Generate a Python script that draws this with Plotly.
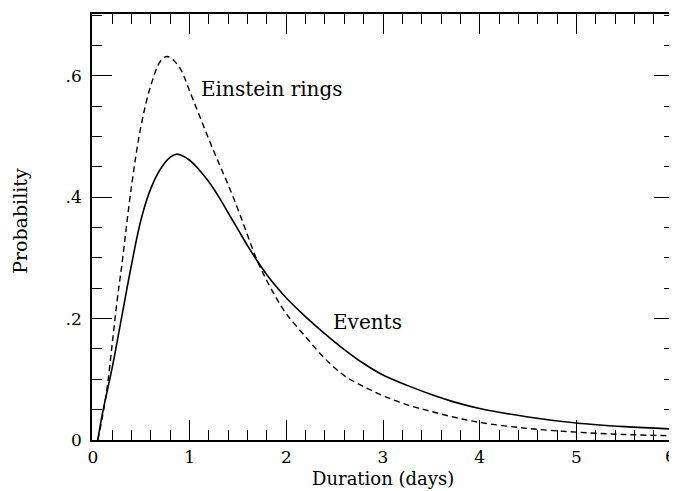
import plotly.graph_objects as go

# Duration (days) sample points and read-off probabilities
events_x = [0.05, 0.1, 0.2, 0.3, 0.4, 0.5, 0.6, 0.7, 0.8, 0.86, 0.9, 1.0, 1.1, 1.2, 1.3, 1.4,
            1.5, 1.6, 1.7, 1.8, 1.9, 2.0, 2.2, 2.4, 2.6, 2.8, 3.0, 3.25, 3.5, 3.75, 4.0,
            4.5, 5.0, 5.5, 6.0]
events_y = [0.0, 0.045, 0.12, 0.205, 0.29, 0.365, 0.415, 0.447, 0.466, 0.471, 0.470, 0.461,
            0.445, 0.425, 0.401, 0.374, 0.347, 0.320, 0.295, 0.272, 0.252, 0.234, 0.203,
            0.175, 0.149, 0.126, 0.107, 0.090, 0.075, 0.062, 0.052, 0.038, 0.028, 0.022, 0.018]

rings_x = [0.05, 0.1, 0.15, 0.2, 0.25, 0.3, 0.4, 0.5, 0.6, 0.7, 0.76, 0.8, 0.9, 1.0, 1.1, 1.2,
           1.3, 1.4, 1.5, 1.6, 1.7, 1.8, 1.9, 2.0, 2.2, 2.4, 2.6, 2.8, 3.0, 3.25, 3.5, 3.75,
           4.0, 4.5, 5.0, 5.5, 6.0]
rings_y = [0.0, 0.04, 0.09, 0.16, 0.23, 0.29, 0.42, 0.52, 0.585, 0.625, 0.632, 0.63, 0.613,
           0.575, 0.535, 0.495, 0.457, 0.42, 0.38, 0.337, 0.295, 0.262, 0.233, 0.208, 0.170,
           0.134, 0.106, 0.088, 0.073, 0.058, 0.047, 0.037, 0.029, 0.019, 0.013, 0.009, 0.007]

x_ticks = [0, 1, 2, 3, 4, 5, 6]
x_ticklabels = ["0", "1", "2", "3", "4", "5", "6"]
y_ticks = [0, 0.2, 0.4, 0.6]
y_ticklabels = ["0", ".2", ".4", ".6"]

FONT = "DejaVu Serif"
FS = 17
XR = [-0.01, 6.01]
YR = [0, 0.702]

fig = go.Figure()
fig.add_trace(go.Scatter(x=rings_x, y=rings_y, mode="lines",
                         line=dict(color="black", width=1.4, dash="6px,4px", shape="spline"),
                         showlegend=False, hoverinfo="skip"))
fig.add_trace(go.Scatter(x=events_x, y=events_y, mode="lines",
                         line=dict(color="black", width=1.6, shape="spline"),
                         showlegend=False, hoverinfo="skip"))
# invisible trace to activate the mirrored (top/right) tick axes
fig.add_trace(go.Scatter(x=[events_x[0]], y=[events_y[0]], xaxis="x2", yaxis="y2",
                         mode="markers", marker=dict(opacity=0), showlegend=False,
                         hoverinfo="skip"))

tick_common = dict(showgrid=False, zeroline=False, ticks="inside", tickcolor="black",
                   tickwidth=1.2, ticklen=20,
                   tickfont=dict(family=FONT, size=FS, color="black"))
xminor = dict(dtick=0.2, tick0=0, ticks="inside", ticklen=10, tickcolor="black",
              tickwidth=1.2, showgrid=False)
yminor = dict(dtick=0.05, tick0=0, ticks="inside", ticklen=10, tickcolor="black",
              tickwidth=1.2, showgrid=False)

# the last x label ("6") sits on the page edge; draw the others on the axis
fig.update_layout(
    xaxis=dict(range=XR, tickvals=x_ticks[:-1], ticktext=x_ticklabels[:-1], minor=xminor,
               showline=True, linecolor="black", linewidth=1.5, mirror=True,
               ticklabelstandoff=1, **tick_common),
    yaxis=dict(range=YR, tickvals=y_ticks, ticktext=y_ticklabels, minor=yminor,
               showline=True, linecolor="black", linewidth=1.5, mirror=True,
               ticklabelstandoff=5, **tick_common),
    xaxis2=dict(range=XR, tickvals=x_ticks, minor=xminor, overlaying="x", side="top",
                anchor="y", showticklabels=False, showline=False, **tick_common),
    yaxis2=dict(range=YR, tickvals=y_ticks, minor=yminor, overlaying="y", side="right",
                anchor="x", showticklabels=False, showline=False, **tick_common),
)
# major tick at 6 on the bottom axis (tickvals above stops at 5)
fig.add_trace(go.Scatter(x=[x_ticks[-1]], y=[0], xaxis="x3", yaxis="y", mode="markers",
                         marker=dict(opacity=0), showlegend=False, hoverinfo="skip"))
fig.update_layout(xaxis3=dict(range=XR, tickvals=[x_ticks[-1]], overlaying="x", side="bottom",
                              anchor="y", showticklabels=False, showline=False, **tick_common))
fig.add_annotation(x=x_ticks[-1], y=0, xref="x", yref="y", text=x_ticklabels[-1],
                   showarrow=False, xanchor="right", yanchor="top", yshift=-5, xshift=4,
                   borderpad=0, font=dict(family=FONT, size=FS, color="black"))

fig.add_annotation(x=1.1, y=0.579, xref="x", yref="y", text="Einstein rings",
                   showarrow=False, xanchor="left", yanchor="middle",
                   font=dict(family=FONT, size=20, color="black"))
fig.add_annotation(x=2.46, y=0.195, xref="x", yref="y", text="Events",
                   showarrow=False, xanchor="left", yanchor="middle",
                   font=dict(family=FONT, size=20, color="black"))
fig.add_annotation(x=0.5, y=-0.118, xref="paper", yref="paper", text="Duration (days)",
                   showarrow=False, xanchor="center", yanchor="bottom", borderpad=0,
                   font=dict(family=FONT, size=18, color="black"))
fig.add_annotation(x=-0.125, y=0.515, xref="paper", yref="paper", text="Probability",
                   showarrow=False, xanchor="center", yanchor="middle", textangle=-90,
                   font=dict(family=FONT, size=19, color="black"))

# page body has an 8px margin: shrink the figure so the plot area lands where it should
fig.update_layout(width=669, height=483, margin=dict(l=84, r=1, t=6, b=51),
                  plot_bgcolor="white", paper_bgcolor="white")

fig.write_html("out.html")
